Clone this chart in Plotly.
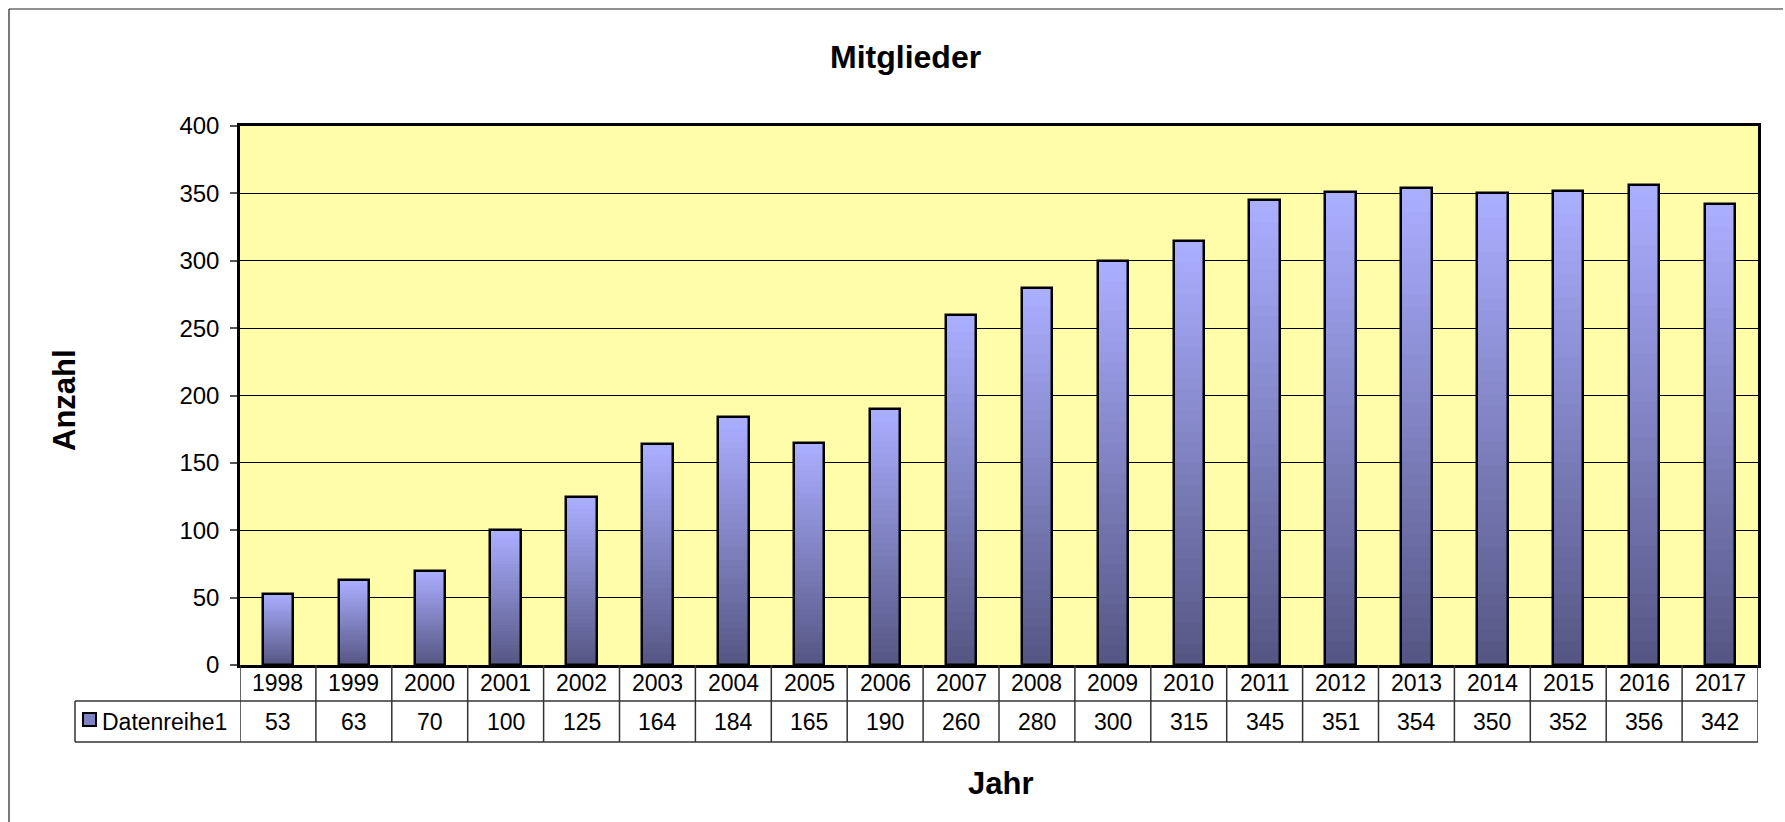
import plotly.graph_objects as go

years = ["1998", "1999", "2000", "2001", "2002", "2003", "2004", "2005", "2006", "2007",
         "2008", "2009", "2010", "2011", "2012", "2013", "2014", "2015", "2016", "2017"]
members = [53, 63, 70, 100, 125, 164, 184, 165, 190, 260,
           280, 300, 315, 345, 351, 354, 350, 352, 356, 342]
series_name = "Datenreihe1"
y_ticks = [0, 50, 100, 150, 200, 250, 300, 350, 400]

W, H = 1785, 822
L, R, T, B = 240, 1758, 126, 665
FONT = "Liberation Sans, Arial, sans-serif"


def py(p):  # pixel y -> paper y
    return (B - p) / (B - T)


def px(p):  # pixel x -> paper x
    return (p - L) / (R - L)


top_rgb = (170, 174, 255)
bot_rgb = (86, 86, 132)
N = 40

fig = go.Figure()
idx = list(range(len(years)))
for k in range(N):
    f = k / (N - 1)
    c = tuple(round(top_rgb[i] + (bot_rgb[i] - top_rgb[i]) * f) for i in range(3))
    fig.add_trace(go.Bar(
        x=idx, y=[v * (N - k) / N for v in members], width=0.4,
        marker=dict(color="rgb(%d,%d,%d)" % c, line=dict(width=0)),
        showlegend=False, hoverinfo="skip"))
fig.add_trace(go.Bar(
    x=idx, y=members, width=0.4, name=series_name,
    marker=dict(color="rgba(0,0,0,0)", line=dict(color="black", width=2.5)),
    showlegend=False))

shapes = []
annotations = []
# outer chart border (left & top)
shapes.append(dict(type="line", xref="paper", yref="paper", x0=px(9), x1=px(1783), y0=py(9), y1=py(9),
                   line=dict(color="#222", width=1.2)))
shapes.append(dict(type="line", xref="paper", yref="paper", x0=px(9), x1=px(9), y0=py(9), y1=py(822),
                   line=dict(color="#222", width=1.2)))

# data table
r0, r1, r2 = 665, 701, 742
tc = "#333"
shapes.append(dict(type="line", xref="paper", yref="paper", x0=px(75), x1=1, y0=py(r1), y1=py(r1),
                   line=dict(color=tc, width=1.5)))
shapes.append(dict(type="line", xref="paper", yref="paper", x0=px(75), x1=1, y0=py(r2), y1=py(r2),
                   line=dict(color=tc, width=1.5)))
shapes.append(dict(type="line", xref="paper", yref="paper", x0=px(75), x1=px(75), y0=py(r1), y1=py(r2),
                   line=dict(color=tc, width=1.5)))
for i in range(len(years) + 1):
    shapes.append(dict(type="line", xref="x", yref="paper", x0=i - 0.5, x1=i - 0.5, y0=py(r0), y1=py(r2),
                       line=dict(color=tc, width=1.5)))
for i, (yr, v) in enumerate(zip(years, members)):
    annotations.append(dict(x=i, y=py((r0 + r1) / 2), xref="x", yref="paper", text=yr, showarrow=False,
                            xanchor="center", yanchor="middle",
                            font=dict(size=23, color="black", family=FONT)))
    annotations.append(dict(x=i, y=py((r1 + r2) / 2), xref="x", yref="paper", text=str(v), showarrow=False,
                            xanchor="center", yanchor="middle",
                            font=dict(size=23, color="black", family=FONT)))
# legend key in table
shapes.append(dict(type="rect", xref="paper", yref="paper", x0=px(83), x1=px(96), y0=py(713), y1=py(726),
                   fillcolor="rgb(128,130,200)", line=dict(color="black", width=2)))
annotations.append(dict(x=px(100), y=py((r1 + r2) / 2), xref="paper", yref="paper", text=series_name,
                        showarrow=False, xanchor="left", yanchor="middle",
                        font=dict(size=23, color="black", family=FONT)))

# titles
annotations.append(dict(x=px(905), y=py(57), xref="paper", yref="paper", text="<b>Mitglieder</b>",
                        showarrow=False, xanchor="center", yanchor="middle",
                        font=dict(size=32, color="black", family=FONT)))
annotations.append(dict(x=px(64), y=py(400), xref="paper", yref="paper", text="<b>Anzahl</b>",
                        showarrow=False, textangle=-90, xanchor="center", yanchor="middle",
                        font=dict(size=31, color="black", family=FONT)))
annotations.append(dict(x=px(1000), y=py(783), xref="paper", yref="paper", text="<b>Jahr</b>",
                        showarrow=False, xanchor="center", yanchor="middle",
                        font=dict(size=31, color="black", family=FONT)))

fig.update_layout(
    width=W, height=H,
    margin=dict(l=L, r=W - R, t=T, b=H - B, pad=0),
    paper_bgcolor="white", plot_bgcolor="#FFFCAA",
    barmode="overlay", bargap=0,
    shapes=shapes, annotations=annotations,
    showlegend=False,
    xaxis=dict(range=[-0.5, len(years) - 0.5], showticklabels=False, ticks="", showgrid=False,
               zeroline=False, showline=True, mirror=True, linecolor="black", linewidth=2.5, fixedrange=True),
    yaxis=dict(range=[0, 400], tickvals=y_ticks, showgrid=True, gridcolor="black", gridwidth=1,
               zeroline=False, showline=True, mirror=True, linecolor="black", linewidth=2.5,
               ticks="outside", ticklen=7, tickcolor="#555", tickwidth=1.5,
               tickfont=dict(size=24, color="black", family=FONT), ticklabelstandoff=6),
)

fig.write_html("out.html", config={"displayModeBar": False},
               post_script="document.body.style.margin='0px';document.body.style.overflow='hidden';")
